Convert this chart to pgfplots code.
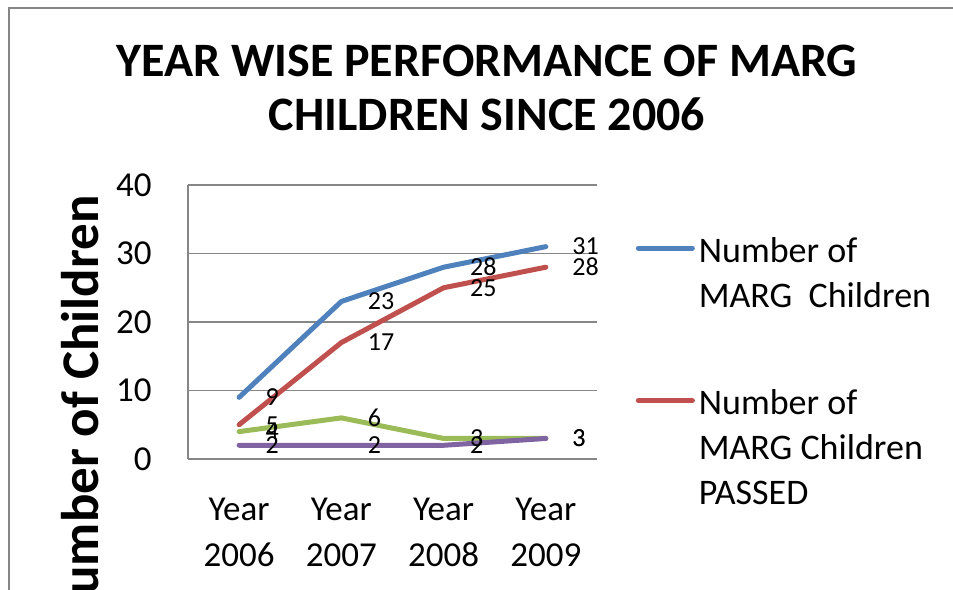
\documentclass[border=0pt]{standalone}
\usepackage{fontspec}
\setmainfont{Carlito}
\usepackage{pgfplots}
\pgfplotsset{compat=1.18}
\definecolor{sblue}{HTML}{4F81BD}
\definecolor{sred}{HTML}{C0504D}
\definecolor{sgreen}{HTML}{9BBB59}
\definecolor{spurple}{HTML}{8064A2}
\definecolor{gridgray}{HTML}{868686}
\definecolor{framegray}{HTML}{858585}
\begin{document}
\begin{tikzpicture}
\useasboundingbox (0,0) rectangle (476.5pt,294.5pt);
\clip (0,0) rectangle (476.5pt,294.5pt);
\draw[draw=framegray, line width=1pt] (4.7pt,-20pt) -- (4.7pt,290.5pt) -- (520pt,290.5pt);
\begin{axis}[
  at={(94pt,65pt)}, anchor=south west, scale only axis,
  width=204.5pt, height=137pt,
  xmin=-0.5, xmax=3.5, ymin=0, ymax=40,
  xtick={0,1,2,3},
  xticklabels={{Year\\2006},{Year\\2007},{Year\\2008},{Year\\2009}},
  ytick={0,10,20,30,40},
  axis x line=bottom, axis y line=left,
  axis line style={-, draw=gridgray, line width=0.6pt},
  major tick length=0pt,
  ymajorgrids, grid style={draw=gridgray, line width=0.6pt},
  /pgf/number format/assume math mode=true,
  yticklabel style={font=\fontsize{17.5}{21}\selectfont, inner sep=0pt, anchor=east, xshift=-18pt},
  xticklabel style={font=\fontsize{17.5}{23}\selectfont, align=center, inner sep=0pt, anchor=north, yshift=-19.5pt},
  title={YEAR WISE PERFORMANCE OF MARG\\CHILDREN SINCE 2006},
  title style={font=\bfseries\fontsize{24}{27}\selectfont, align=center, inner sep=0pt, at={(axis description cs:0.731,1.47)}, anchor=north},
  ylabel={Number of Children},
  ylabel style={font=\bfseries\fontsize{26.5}{30}\selectfont, inner sep=0pt, at={(axis description cs:-0.220,0.9635)}, rotate=0, anchor=base east},
  every node near coord/.append style={font=\fontsize{13}{15}\selectfont, text=black, anchor=west, inner sep=0pt, xshift=12pt},
  legend style={at={(axis description cs:1.095,0.848)}, anchor=north west, draw=none, fill=none, inner sep=0pt, outer sep=0pt, font=\fontsize{18}{22.5}\selectfont, cells={anchor=base west, inner sep=0pt}, column sep=0pt, row sep=55pt},
  legend image code/.code={\draw[#1, line cap=round] (0pt,7pt) -- (27pt,7pt);},
  every axis plot/.append style={line width=2.5pt, line cap=round, line join=round},
]
\addplot[sblue, nodes near coords] coordinates {(0,9) (1,23) (2,28) (3,31)};
\addlegendentry{\begin{tabular}[t]{@{}l@{}}Number of\\MARG\ \ Children\end{tabular}}
\addplot[sred, nodes near coords] coordinates {(0,5) (1,17) (2,25) (3,28)};
\addlegendentry{\begin{tabular}[t]{@{}l@{}}Number of\\MARG Children\\PASSED\end{tabular}}
\addplot[sgreen, nodes near coords] coordinates {(0,4) (1,6) (2,3) (3,3)};
\addplot[spurple, nodes near coords] coordinates {(0,2) (1,2) (2,2) (3,3)};
\end{axis}
\end{tikzpicture}
\end{document}
